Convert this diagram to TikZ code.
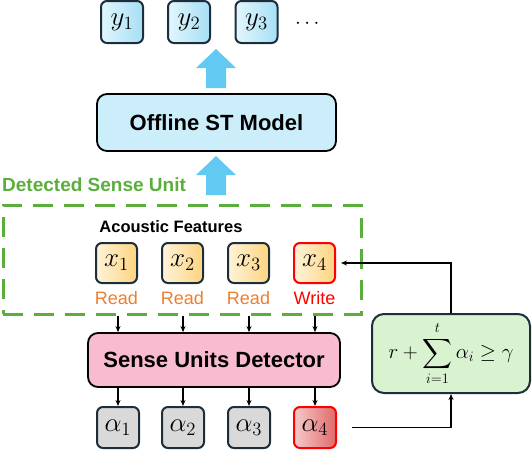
\documentclass[tikz,border=0pt]{standalone}
\usepackage{graphicx}
\usepackage{amsmath,amssymb}
\usepackage{fontspec}
\setsansfont{Liberation Sans}
\usetikzlibrary{arrows.meta,calc}
\definecolor{navy}{HTML}{1C2E3B}
\definecolor{ylight}{HTML}{E2F6FD}
\definecolor{ydark}{HTML}{A6DFF5}
\definecolor{stfill}{HTML}{CCEEFB}
\definecolor{arrowblue}{HTML}{62CAF2}
\definecolor{xlight}{HTML}{FFF3D9}
\definecolor{xdark}{HTML}{FDD47F}
\definecolor{agray}{HTML}{D9D9D9}
\definecolor{alight}{HTML}{F6CACA}
\definecolor{adark}{HTML}{E06A6A}
\definecolor{sudfill}{HTML}{F8BBCF}
\definecolor{condfill}{HTML}{D9F2D0}
\definecolor{dgreen}{HTML}{5BAE3C}
\definecolor{readorange}{HTML}{ED7D31}
\definecolor{writered}{HTML}{FF0000}
\newcommand\mfont{\fontsize{20.74}{24}\selectfont}
\newcommand\mv[1]{\scalebox{1.3}{$#1$}}
\newcommand\bigbold{\fontsize{22}{26}\selectfont\sffamily\bfseries}
\begin{document}
\begin{tikzpicture}[x=1pt,y=-1pt,
  ybox/.style={draw=navy, line width=2pt, rounded corners=6pt, left color=ylight, right color=ydark, minimum width=42pt, minimum height=42pt, inner sep=0pt, font=\mfont},
  xbox/.style={draw=navy, line width=2pt, rounded corners=6pt, left color=xlight, right color=xdark, minimum width=41pt, minimum height=40pt, inner sep=0pt, font=\mfont},
  xredbox/.style={xbox, draw=writered},
  abox/.style={draw=navy, line width=2pt, rounded corners=6pt, fill=agray, minimum width=42pt, minimum height=41pt, inner sep=0pt, font=\mfont},
  aredbox/.style={abox, draw=writered, left color=alight, right color=adark},
  bigbox/.style={draw=black, line width=1.8pt, rounded corners=10pt, inner sep=0pt, font=\bigbold},
  readlbl/.style={text=readorange, font=\fontsize{18}{20}\selectfont\sffamily, inner sep=0pt},
  conn/.style={line width=1.5pt, -{Stealth[length=6pt,width=5pt]}}
]
\useasboundingbox (0,0) rectangle (532,450);

% outputs
\node[ybox] (y1) at (122,22) {\mv{y_1}};
\node[ybox] (y2) at (189,22) {\mv{y_2}};
\node[ybox] (y3) at (256.5,22) {\mv{y_3}};
\node[font=\mfont, inner sep=0pt] (dots) at (309,24) {$\cdots$};

% blue arrows
\fill[arrowblue] (206,88) -- (206,68) -- (196,68) -- (216,49) -- (236,68) -- (226,68) -- (226,88) -- cycle;
\fill[arrowblue] (206,195) -- (206,175) -- (196,175) -- (216,156) -- (236,175) -- (226,175) -- (226,195) -- cycle;

% offline model
\node[bigbox, fill=stfill, minimum width=239pt, minimum height=57pt] (st) at (216.5,122.5) {Offline ST Model};

% detected sense unit
\node[anchor=west, inner sep=0pt, text=dgreen, font=\fontsize{19}{22}\selectfont\sffamily\bfseries] (dsulbl) at (2,185) {Detected Sense Unit};
\node[draw=dgreen, line width=3pt, dash pattern=on 20pt off 11pt, minimum width=358pt, minimum height=109pt, inner sep=0pt] (dsu) at (182,259.5) {};

\node[inner sep=0pt, font=\fontsize{16.5}{20}\selectfont\sffamily\bfseries] (af) at (171,227) {Acoustic Features};

\node[xbox] (x1) at (116.5,263) {\mv{x_1}};
\node[xbox] (x2) at (182.5,263) {\mv{x_2}};
\node[xbox] (x3) at (248.5,263) {\mv{x_3}};
\node[xredbox] (x4) at (314.5,263) {\mv{x_4}};

\node[readlbl] (r1) at (116.5,298) {Read};
\node[readlbl] (r2) at (182.5,298) {Read};
\node[readlbl] (r3) at (248.5,298) {Read};
\node[readlbl, text=writered] (w4) at (314.5,298) {Write};

% detector
\node[bigbox, fill=sudfill, minimum width=252pt, minimum height=54pt] (sud) at (214,360) {Sense Units Detector};

\node[abox] (a1) at (118,427.5) {\mv{\alpha_1}};
\node[abox] (a2) at (183,427.5) {\mv{\alpha_2}};
\node[abox] (a3) at (249,427.5) {\mv{\alpha_3}};
\node[aredbox] (a4) at (315,427.5) {\mv{\alpha_4}};

% condition
\node[draw=navy, line width=2pt, rounded corners=12pt, fill=condfill, minimum width=158pt, minimum height=79pt, inner sep=0pt, font=\fontsize{20.74}{24}\selectfont] (cond) at (451,353.5) {$\displaystyle r+\sum_{i=1}^{t}\alpha_i\geq\gamma$};

% connectors
\foreach \i/\a in {x1/a1,x2/a2,x3/a3,x4/a4}{
  \draw[conn] (\a |- dsu.south) -- (\a |- sud.north);
  \draw[conn] (\a |- sud.south) -- (\a.north);
}
\draw[conn] ([xshift=15pt]a4.east) -| (cond.south);
\draw[conn] (cond.north) |- ([xshift=5pt]x4.east);
\end{tikzpicture}
\end{document}
